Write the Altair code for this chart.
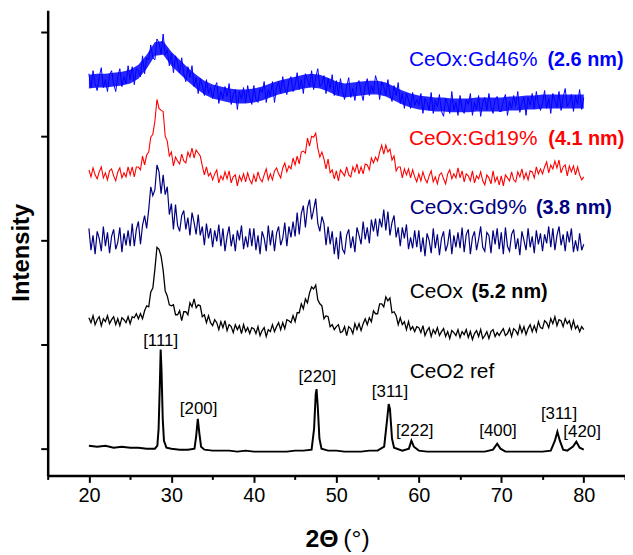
import altair as alt
import pandas as pd

FONT = "Liberation Sans"

# scan grid of the noisy samples (2-theta, degrees)
X_START = 20.0
X_STEP = 0.25

# intensities (arbitrary units, offset stacked), 20.00 .. 80.00 deg every 0.25 deg
ceox = [
    162,157,164,155,160,163,154,161,158,164,156,160,163,155,161,154,162,160,157,163,
    156,163,162,166,161,166,161,169,174,173,188,192,211,233,231,224,210,189,184,175,
    174,175,165,165,169,159,168,168,165,177,173,181,172,175,174,163,165,157,164,157,
    154,160,157,150,158,152,159,149,155,153,147,155,150,154,146,155,148,152,146,152,
    151,146,153,144,149,152,143,150,148,155,148,153,157,150,157,151,160,159,157,164,
    158,167,167,176,171,181,177,187,193,191,195,180,176,174,161,164,163,153,155,150,
    153,155,147,148,153,144,153,151,146,156,150,156,149,156,161,155,162,158,169,166,
    166,176,176,173,183,179,182,167,168,164,155,162,155,158,150,158,150,153,148,153,
    152,147,154,144,149,152,143,150,146,152,144,148,151,143,148,141,149,147,144,150,
    142,148,145,150,142,148,140,146,149,143,150,141,144,148,141,148,150,143,147,144,
    148,151,144,146,151,143,151,149,145,154,147,153,145,151,155,148,154,148,158,152,
    151,159,157,152,161,156,163,154,160,159,153,161,156,159,151,159,151,154,148,153,
    150,
]
gd9 = [
    252,230,245,226,249,242,229,254,234,248,227,244,251,231,238,253,228,247,235,250,
    234,257,234,251,259,236,255,265,252,271,294,285,291,316,309,287,306,286,294,266,
    277,251,276,255,249,265,270,251,263,245,268,258,246,266,245,254,235,257,242,252,
    233,250,239,256,234,252,229,244,254,234,246,229,250,240,255,231,244,233,252,234,
    252,230,245,226,249,242,229,255,235,250,229,247,254,235,242,258,234,254,243,259,
    244,268,246,267,275,253,273,281,261,271,282,257,249,264,257,235,254,236,249,226,
    243,221,249,231,227,245,251,232,244,228,253,245,236,259,241,253,237,261,249,262,
    244,262,253,271,250,269,245,258,265,243,253,234,253,242,256,231,243,232,250,233,
    250,228,243,224,247,240,227,252,232,246,225,242,249,229,236,251,226,245,233,248,
    232,253,228,246,251,226,243,249,230,241,254,233,229,248,245,227,250,236,252,231,
    248,226,253,234,229,246,251,231,242,225,249,240,230,252,233,244,227,250,236,247,
    229,246,237,254,233,252,230,245,254,235,246,229,249,238,252,228,240,229,247,230,
    236,
]
gd19 = [
    311,304,313,306,302,309,314,303,308,301,310,312,305,300,309,313,303,308,304,314,
    306,314,304,314,314,311,325,316,326,329,344,347,360,382,373,371,370,345,340,325,
    329,315,324,320,317,327,320,318,329,324,333,323,331,328,325,315,306,314,305,308,
    301,307,311,298,305,301,309,302,310,298,304,306,295,305,300,307,299,308,301,297,
    306,299,309,302,299,306,312,301,307,301,310,313,307,303,313,318,309,315,312,323,
    316,325,317,329,330,328,343,335,345,344,348,333,324,329,322,312,322,308,311,302,
    310,300,311,308,305,314,306,304,314,309,317,307,314,307,317,316,311,323,318,324,
    320,329,336,327,336,329,332,321,325,310,314,314,303,312,306,312,303,311,304,299,
    307,300,309,302,298,305,310,299,304,297,306,308,302,297,307,311,302,307,303,313,
    303,310,299,307,305,300,310,298,305,302,309,300,296,306,303,297,310,299,304,296,
    305,295,306,303,300,309,301,299,309,304,312,302,308,301,310,309,303,314,307,312,
    307,314,319,308,316,312,320,313,321,308,314,316,305,315,309,315,306,314,306,301,
    304,
]
gd46 = [
    408,394,411,398,391,405,414,394,402,390,407,411,398,390,405,413,395,405,398,416,
    402,415,397,413,411,405,426,408,424,422,437,424,422,443,439,428,448,427,432,416,
    428,409,426,419,409,424,408,400,415,404,416,395,404,388,403,396,386,402,388,394,
    383,394,399,378,390,383,395,385,398,377,387,392,372,390,382,394,379,396,384,377,
    396,382,379,393,389,400,379,392,385,400,379,394,400,388,405,393,387,401,405,390,
    396,409,392,402,388,408,402,395,411,392,404,413,395,398,406,388,403,393,407,386,
    401,387,403,390,382,395,404,384,393,381,398,401,389,381,396,403,386,396,389,406,
    399,382,400,395,386,402,387,380,396,386,399,378,388,373,388,382,373,389,376,382,
    376,388,368,383,379,371,389,368,381,375,387,370,365,383,378,368,390,371,379,366,
    386,372,368,382,377,388,366,379,372,386,365,379,384,371,388,375,368,382,385,370,
    370,381,387,366,380,373,386,376,390,369,379,384,366,384,376,388,373,390,378,371,
    378,391,373,383,368,388,381,374,390,371,384,393,375,379,387,370,386,377,392,372,
    384,
]

# dense core of the Gd46% trace (its noise fills a solid band), 20 .. 80 deg every 1 deg
gd46_band_x = list(range(20, 81))
gd46_band_hi = [407,408,408,409,410,412,417,427,440,441,430,422,414,407,401,397,395,393,392,392,
                393,395,398,401,403,405,407,408,407,404,400,398,399,400,401,401,399,395,391,388,
                386,385,384,384,383,383,383,384,384,384,384,385,385,386,386,387,387,387,387,387,
                387]
gd46_band_lo = [393,394,394,395,396,398,403,413,426,427,416,408,400,393,387,383,381,379,378,378,
                379,381,384,387,389,391,393,394,393,390,386,384,385,386,387,387,385,381,377,374,
                372,371,370,370,369,369,369,370,370,370,370,371,371,372,372,373,373,373,373,373,
                373]

# CeO2 reference pattern (sharp peaks), read point by point
ref_x = [20,21,22,23,24,25,26,27,28,28.3,28.45,28.6,28.7,28.8,28.95,29.1,29.4,30,31,32,
         32.8,33.0,33.2,33.4,33.6,34,35,36,37,38,39,40,41,42,43,44,45,46,47,47.3,
         47.5,47.6,47.75,47.95,48.2,49,50,51,52,53,54,55,55.8,56.1,56.35,56.5,56.75,57,58,58.8,
         59.1,59.4,60,61,62,63,64,65,66,67,68,69,69.5,69.9,70.5,72,73,74,75,76,
         76.5,76.8,77.1,77.5,78,78.7,79.1,79.5,80]
ref_y = [33,32,33,31,32,31,31,30,30,33,50,95,130,110,60,38,31,30,29,29,
         30,42,60,45,32,29,28,28,28,27,28,27,27,27,27,27,28,28,29,50,
         85,90,72,40,30,28,28,27,27,27,28,28,32,55,75,70,40,31,28,30,
         38,32,28,27,27,27,27,27,27,27,27,29,35,30,27,27,27,27,27,28,
         38,47,38,29,28,32,37,31,29]

series_names = ["CeOx", "CeOx:Gd9%", "CeOx:Gd19%", "CeOx:Gd46%"]
series_colors = ["#000000", "#000080", "#ff0000", "#0000ff"]
series_widths = [1.3, 1.0, 1.2, 1.3]
series_values = [ceox, gd9, gd19, gd46]

# label texts
name_labels = ["CeOx:Gd46%", "CeOx:Gd19%", "CeOx:Gd9%", "CeOx", "CeO2 ref"]
name_x = [58.8, 58.8, 58.9, 58.9, 58.9]
name_y = [422, 342, 273, 188, 107]
name_colors = ["#0000ff", "#ff0000", "#000080", "#000000", "#000000"]

size_labels = ["(2.6 nm)", "(4.1 nm)", "(3.8 nm)", "(5.2 nm)"]
size_x = [75.6, 75.7, 74.2, 66.4]
size_y = [422, 342, 273, 188]
size_colors = ["#0000ff", "#ff0000", "#000080", "#000000"]

peak_labels = ["[111]", "[200]", "[220]", "[311]", "[222]", "[400]", "[311]", "[420]"]
peak_x = [28.7, 33.3, 47.7, 56.5, 59.5, 69.6, 77.0, 79.8]
peak_y = [138, 70, 102, 87, 48, 48, 65, 47]

rows = []
for name, vals in zip(series_names, series_values):
    for i, v in enumerate(vals):
        rows.append({"two_theta": X_START + X_STEP * i, "intensity": v, "series": name})
noisy = pd.DataFrame(rows)
ref = pd.DataFrame({"two_theta": ref_x, "intensity": ref_y})
band = pd.DataFrame({"two_theta": gd46_band_x, "lo": gd46_band_lo, "hi": gd46_band_hi})

X_DOMAIN = [15, 85]
Y_DOMAIN = [3, 472]

xscale = alt.Scale(domain=X_DOMAIN, nice=False, zero=False)
yscale = alt.Scale(domain=Y_DOMAIN, nice=False, zero=False)

x_axis = alt.Axis(
    values=list(range(15, 90, 5)),
    labelExpr="datum.value % 10 === 0 && datum.value >= 20 && datum.value <= 80 ? datum.label : ''",
    tickSize={"condition": {"test": "datum.value % 10 === 0", "value": 7}, "value": 4},
    tickWidth=2, tickColor="black", domainColor="black", domainWidth=2.5,
    labelFont=FONT, labelFontSize=20, labelColor="black", labelPadding=3,
    labelFlush=False, labelOverlap=False, grid=False, title=None,
)
y_axis = alt.Axis(
    values=[30, 135, 240, 345, 450], labels=False,
    tickSize=7, tickWidth=2, tickColor="black", domainColor="black", domainWidth=2.5,
    grid=False, title="Intensity", titleFont=FONT, titleFontSize=24,
    titleFontWeight="bold", titleColor="black", titlePadding=6, titleY=244,
)

ref_line = alt.Chart(ref).mark_line(color="black", strokeWidth=2).encode(
    x=alt.X("two_theta:Q", scale=xscale, axis=x_axis),
    y=alt.Y("intensity:Q", scale=yscale, axis=y_axis),
)

band_area = alt.Chart(band).mark_area(color="#0000ff", opacity=0.85).encode(
    x=alt.X("two_theta:Q", scale=xscale),
    y=alt.Y("lo:Q", scale=yscale),
    y2="hi:Q",
)

noisy_lines = alt.Chart(noisy).mark_line().encode(
    x=alt.X("two_theta:Q", scale=xscale),
    y=alt.Y("intensity:Q", scale=yscale),
    color=alt.Color("series:N", scale=alt.Scale(domain=series_names, range=series_colors), legend=None),
    strokeWidth=alt.StrokeWidth("series:N", scale=alt.Scale(domain=series_names, range=series_widths), legend=None),
    detail="series:N",
)

names_df = pd.DataFrame({"x": name_x, "y": name_y, "t": name_labels, "c": name_colors})
sizes_df = pd.DataFrame({"x": size_x, "y": size_y, "t": size_labels, "c": size_colors})
peaks_df = pd.DataFrame({"x": peak_x, "y": peak_y, "t": peak_labels})

names_text = alt.Chart(names_df).mark_text(
    align="left", baseline="middle", font=FONT, fontSize=21
).encode(x="x:Q", y="y:Q", text="t:N", color=alt.Color("c:N", scale=None))

sizes_text = alt.Chart(sizes_df).mark_text(
    align="left", baseline="middle", font=FONT, fontSize=20, fontWeight="bold"
).encode(x="x:Q", y="y:Q", text="t:N", color=alt.Color("c:N", scale=None))

peaks_text = alt.Chart(peaks_df).mark_text(
    align="center", baseline="middle", font=FONT, fontSize=17, color="black"
).encode(x="x:Q", y="y:Q", text="t:N")

xtitle_bold = alt.Chart(pd.DataFrame({"t": ["2Θ"]})).mark_text(
    align="left", baseline="middle", font=FONT, fontSize=25, fontWeight="bold", color="black"
).encode(x=alt.value(260), y=alt.value(533), text="t:N")
xtitle_norm = alt.Chart(pd.DataFrame({"t": ["(°)"]})).mark_text(
    align="left", baseline="middle", font=FONT, fontSize=25, color="black"
).encode(x=alt.value(298), y=alt.value(533), text="t:N")

chart = alt.layer(
    ref_line, band_area, noisy_lines, names_text, sizes_text, peaks_text, xtitle_bold, xtitle_norm
).properties(
    width=582, height=469,
    autosize=alt.AutoSizeParams(type="none"),
    padding={"left": 40, "top": 0, "right": 0, "bottom": 78},
).configure_view(stroke=None)

chart.save("out.html", embed_options={"renderer": "svg", "actions": False})
